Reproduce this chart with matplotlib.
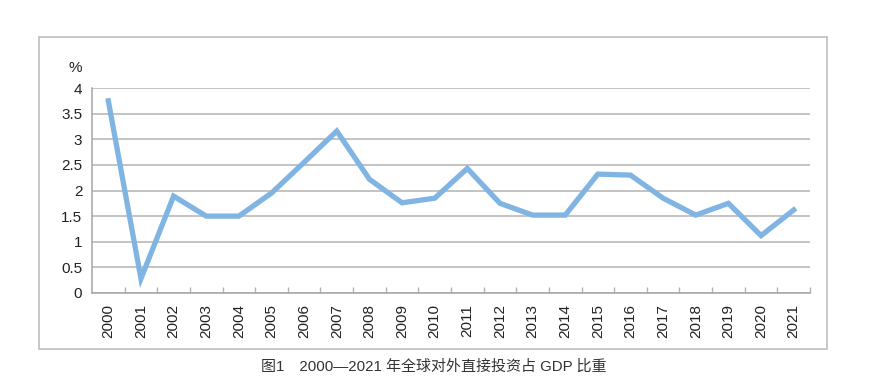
import matplotlib.pyplot as plt
from matplotlib.patches import Rectangle

plt.rcParams['font.family'] = ['Liberation Sans', 'Noto Sans CJK SC', 'DejaVu Sans']

years = [str(y) for y in range(2000, 2022)]
share = [3.75, 0.28, 1.89, 1.50, 1.50, 1.95, 2.55, 3.16, 2.22, 1.76, 1.85,
         2.43, 1.75, 1.52, 1.52, 2.32, 2.30, 1.85, 1.52, 1.75, 1.12, 1.62]
yticks = [0, 0.5, 1, 1.5, 2, 2.5, 3, 3.5, 4]
ytick_labels = ['0', '0.5', '1', '1.5', '2', '2.5', '3', '3.5', '4']
caption = '图1　2000—2021 年全球对外直接投资占 GDP 比重'

W, H = 871, 391
fig = plt.figure(figsize=(W / 100, H / 100), dpi=100)
ax = fig.add_axes([92 / W, 98 / H, (810 - 92) / W, (293 - 88) / H])

x = list(range(len(years)))
ax.plot(x, share, color='#80b4e2', lw=3.8, solid_joinstyle='miter', zorder=3)

ax.set_xlim(-0.5, len(years) - 0.5)
ax.set_ylim(0, 4)
ax.set_yticks(yticks)
ax.set_yticklabels(ytick_labels, fontsize=11, color='#222222')
ax.set_xticks(x)
ax.set_xticklabels(years, rotation=90, fontsize=11, color='#222222')
ax.tick_params(axis='x', which='major', length=0, pad=8)
ax.set_xticks([i - 0.5 for i in range(1, len(years) + 1)], minor=True)
ax.tick_params(axis='x', which='minor', direction='in', length=4.5,
               width=1.0, color='#b0b0b0')
ax.tick_params(axis='y', length=0, pad=7)

ax.grid(axis='y', color='#b3b3b3', lw=1.1)
ax.set_axisbelow(True)
for s in ['top', 'right']:
    ax.spines[s].set_visible(False)
for s in ['left', 'bottom']:
    ax.spines[s].set_color('#a6a6a6')
    ax.spines[s].set_linewidth(1.1)

fig.text(75 / W, 1 - 68 / H, '%', ha='center', va='center', fontsize=11,
         color='#222222')

fig.patches.append(Rectangle((39 / W, 42 / H), 788 / W, 312 / H,
                             transform=fig.transFigure, fill=False,
                             edgecolor='#bfbfbf', lw=1.2))

fig.text(434 / W, 1 - 367 / H, caption, ha='center', va='center',
         fontsize=10.8, color='#333333',
         family=['Liberation Sans', 'Noto Sans CJK SC'])

fig.savefig('out.png', dpi=100)
